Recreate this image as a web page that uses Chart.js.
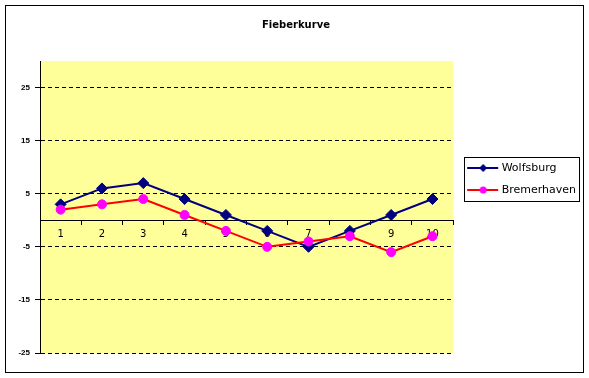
<!DOCTYPE html>
<html>
<head>
<meta charset="utf-8">
<script src="https://cdn.jsdelivr.net/npm/chart.js@4.4.0/dist/chart.umd.min.js"></script>
<style>
    html, body { margin: 0; padding: 0; background: #fff; }
</style>
</head>
<body>
<canvas id="fieber" width="589" height="378"></canvas>
<script>
const categories = ['1', '2', '3', '4', '5', '6', '7', '8', '9', '10'];
const wolfsburg = [3, 6, 7, 4, 1, -2, -5, -2, 1, 4];
const bremerhaven = [2, 3, 4, 1, -2, -5, -4, -3, -6, -3];
const yTicks = [-25, -15, -5, 5, 15, 25];

// kleines Legenden-Symbol: Linie mit Marker (wie in Excel)
function legendSymbol(lineColor, markerColor, shape) {
    const c = document.createElement('canvas');
    c.width = 38;
    c.height = 12;
    const g = c.getContext('2d');
    g.strokeStyle = lineColor;
    g.lineWidth = 2;
    g.beginPath();
    g.moveTo(6, 6);
    g.lineTo(37, 6);
    g.stroke();
    g.fillStyle = markerColor;
    g.beginPath();
    if (shape === 'diamond') {
        g.moveTo(22, 2);
        g.lineTo(26, 6);
        g.lineTo(22, 10);
        g.lineTo(18, 6);
        g.closePath();
    } else {
        g.arc(22, 6, 3.5, 0, Math.PI * 2);
    }
    g.fill();
    return c;
}

const symbols = [
    legendSymbol('#000080', '#000080', 'diamond'),
    legendSymbol('#ff0000', '#ff00ff', 'circle')
];

const excelLook = {
    id: 'excelLook',
    beforeDraw(chart) {
        const { ctx, chartArea: a } = chart;
        ctx.save();
        ctx.fillStyle = '#ffffff';
        ctx.fillRect(0, 0, chart.width, chart.height);
        ctx.fillStyle = '#ffff99';
        ctx.fillRect(a.left, a.top, a.right - a.left, a.bottom - a.top);
        ctx.restore();
    },
    afterDraw(chart) {
        const { ctx } = chart;
        ctx.save();
        ctx.strokeStyle = '#000';
        ctx.lineWidth = 1;
        ctx.strokeRect(5.5, 5.5, 578, 367);

        // Rahmen um die Legende
        const boxes = chart.legend.legendHitBoxes;
        if (boxes && boxes.length) {
            const left = Math.min(...boxes.map(b => b.left));
            const right = Math.max(...boxes.map(b => b.left + b.width));
            const top = Math.min(...boxes.map(b => b.top));
            const bottom = Math.max(...boxes.map(b => b.top + b.height));
            ctx.strokeRect(Math.round(left) + 0.5, Math.round(top - 6) + 0.5,
                Math.round(right - left + 3), Math.round(bottom - top + 11));
        }
        ctx.restore();
    }
};

new Chart(document.getElementById('fieber'), {
    type: 'line',
    data: {
        labels: categories,
        datasets: [{
            label: 'Wolfsburg',
            data: wolfsburg,
            borderColor: '#000080',
            backgroundColor: '#000080',
            borderWidth: 2,
            pointStyle: 'rectRot',
            pointRadius: 5.5,
            pointBorderWidth: 1,
            pointBackgroundColor: '#000080',
            pointBorderColor: '#000080',
            tension: 0,
            order: 1
        }, {
            label: 'Bremerhaven',
            data: bremerhaven,
            borderColor: '#ff0000',
            backgroundColor: '#ff00ff',
            borderWidth: 2,
            pointStyle: 'circle',
            pointRadius: 4.5,
            pointBorderWidth: 1,
            pointBackgroundColor: '#ff00ff',
            pointBorderColor: '#ff00ff',
            tension: 0,
            order: 0
        }]
    },
    options: {
        responsive: false,
        animation: false,
        layout: {
            padding: { left: 6, right: 3, top: 5, bottom: 25 }
        },
        plugins: {
            title: {
                display: true,
                text: 'Fieberkurve',
                color: '#000',
                font: { family: 'DejaVu Sans', size: 10, weight: 'bold' },
                padding: { top: 14, bottom: 30 }
            },
            legend: {
                position: 'right',
                labels: {
                    color: '#000',
                    font: { family: 'DejaVu Sans', size: 11 },
                    usePointStyle: true,
                    pointStyleWidth: 32,
                    padding: 11,
                    sort: (a, b) => a.datasetIndex - b.datasetIndex,
                    generateLabels(chart) {
                        const items = Chart.defaults.plugins.legend.labels.generateLabels(chart);
                        items.forEach(it => { it.pointStyle = symbols[it.datasetIndex]; });
                        return items;
                    }
                }
            },
            tooltip: { enabled: false }
        },
        scales: {
            x: {
                type: 'category',
                position: { y: 0 },
                offset: true,
                grid: {
                    drawOnChartArea: false,
                    offset: true,
                    color: '#000',
                    tickColor: '#000',
                    tickLength: 4
                },
                border: { color: '#000', width: 1 },
                ticks: {
                    color: '#000',
                    font: { family: 'DejaVu Sans', size: 10 },
                    padding: 4,
                    maxRotation: 0,
                    autoSkip: false
                }
            },
            y: {
                min: -25,
                max: 30,
                afterBuildTicks(scale) {
                    scale.ticks = yTicks.map(v => ({ value: v }));
                },
                afterFit(scale) {
                    scale.width = 34;
                },
                grid: {
                    color: '#000',
                    lineWidth: 1,
                    tickColor: '#000',
                    tickLength: 5,
                    tickBorderDash: []
                },
                border: { color: '#000', width: 1, dash: [4, 3] },
                ticks: {
                    color: '#000',
                    font: { family: 'Liberation Sans', size: 8, weight: 'bold' },
                    padding: 5
                }
            }
        }
    },
    plugins: [excelLook]
});
</script>
</body>
</html>
